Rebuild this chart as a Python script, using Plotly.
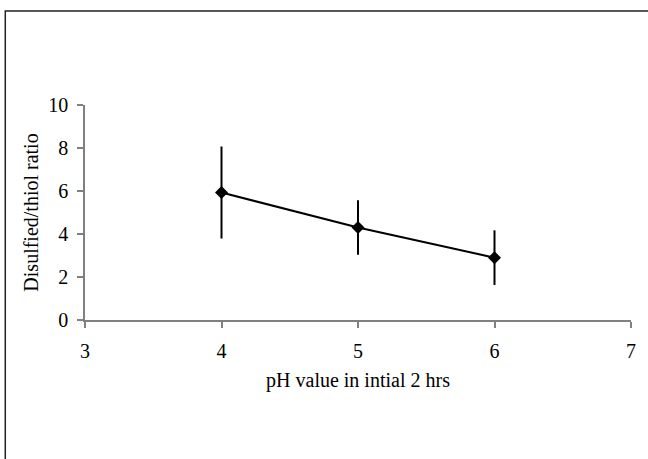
import plotly.graph_objects as go

ph_values = [4, 5, 6]
ratio_values = [5.93, 4.3, 2.9]
ratio_errors = [2.14, 1.27, 1.27]
x_ticks = [3, 4, 5, 6, 7]
y_ticks = [0, 2, 4, 6, 8, 10]

fig = go.Figure()
fig.add_trace(go.Scatter(
    x=ph_values, y=ratio_values,
    mode="lines+markers",
    line=dict(color="black", width=2),
    marker=dict(symbol="diamond", size=10, color="black"),
    error_y=dict(type="data", array=ratio_errors, visible=True,
                 color="black", thickness=2, width=0),
    showlegend=False,
))

serif = "Liberation Serif, Times New Roman, serif"
tick_font = dict(family=serif, size=20, color="black")
title_font = dict(family=serif, size=20, color="black")
axis_common = dict(
    showline=True, linecolor="#808080", linewidth=1.5,
    ticks="outside", tickcolor="#808080", tickwidth=1.5,
    showgrid=False, zeroline=False, tickfont=tick_font,
)
fig.update_layout(
    width=648, height=459,
    margin=dict(l=85, r=15, t=105, b=139),
    plot_bgcolor="white", paper_bgcolor="white",
    font=dict(family=serif, size=20, color="black"),
    xaxis=dict(range=[3, 7], tickvals=x_ticks, ticklen=6, ticklabelstandoff=6,
               title=dict(text="pH value in intial 2 hrs", font=title_font, standoff=12),
               **axis_common),
    yaxis=dict(range=[0, 10], tickvals=y_ticks, ticklen=6, ticklabelstandoff=5,
               title=dict(text="Disulfied/thiol ratio", font=title_font, standoff=4),
               **axis_common),
    shapes=[dict(type="rect", xref="paper", yref="paper",
                 x0=-0.146, x1=1.2, y0=-1.0, y1=1.437,
                 line=dict(color="#222222", width=1.5), fillcolor="rgba(0,0,0,0)",
                 layer="below")],
)

fig.write_html("out.html")
